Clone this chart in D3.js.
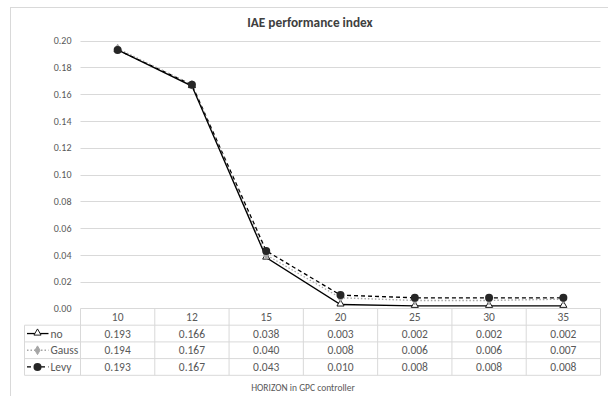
<!DOCTYPE html>
<html>
<head>
<meta charset="utf-8">
<script src="https://cdn.jsdelivr.net/npm/d3@7"></script>
<style>
    body { margin: 0; background: #fff; }
    text { font-family: Carlito, Lato, "Open Sans", "Liberation Sans", sans-serif; }
</style>
</head>
<body>
<script>
var categories = ["10", "12", "15", "20", "25", "30", "35"];
var seriesNames = ["no", "Gauss", "Levy"];
var noValues = [0.193, 0.166, 0.038, 0.003, 0.002, 0.002, 0.002];
var gaussValues = [0.194, 0.167, 0.040, 0.008, 0.006, 0.006, 0.007];
var levyValues = [0.193, 0.167, 0.043, 0.010, 0.008, 0.008, 0.008];
var yTicks = [0, 0.02, 0.04, 0.06, 0.08, 0.10, 0.12, 0.14, 0.16, 0.18, 0.20];

(function () {
    var width = 608, height = 396;
    var plotLeft = 80.5, plotRight = 600.5, plotTop = 40.5, plotBottom = 308.5;
    var rowH = 16.7, legendLeft = 24.5;
    var grid = "#d9d9d9", txt = "#595959";

    var series = [
        {name: seriesNames[0], values: noValues, color: "#000", dash: null, marker: "triangle", fill: "#fff"},
        {name: seriesNames[1], values: gaussValues, color: "#a6a6a6", dash: "1.5,2", marker: "diamond", fill: "#a6a6a6"},
        {name: seriesNames[2], values: levyValues, color: "#000", dash: "4,3", marker: "circle", fill: "#262626"}
    ];

    var svg = d3.select("body").append("svg")
        .attr("width", width)
        .attr("height", height);

    svg.append("rect")
        .attr("x", 10.5).attr("y", 7.5)
        .attr("width", 620).attr("height", 420)
        .attr("fill", "#fff")
        .attr("stroke", grid);

    var x = d3.scaleBand().domain(categories).range([plotLeft, plotRight]);
    var y = d3.scaleLinear().domain([0, 0.2]).range([plotBottom, plotTop]);

    // gridlines
    svg.append("g").selectAll("line")
        .data(yTicks.slice(1))
        .enter().append("line")
        .attr("x1", plotLeft).attr("x2", plotRight)
        .attr("y1", function (d) { return Math.round(y(d)) + 0.5; })
        .attr("y2", function (d) { return Math.round(y(d)) + 0.5; })
        .attr("stroke", grid);

    var yAxis = svg.append("g")
        .attr("transform", "translate(" + plotLeft + ",0)")
        .call(d3.axisLeft(y).tickValues(yTicks).tickFormat(d3.format(".2f")).tickSize(0).tickPadding(9));
    yAxis.select(".domain").remove();
    yAxis.selectAll("text").attr("fill", txt).style("font-size", "10px");

    // data table
    var tbl = svg.append("g").attr("stroke", grid).attr("fill", "none");
    [0, 1, 2, 3, 4].forEach(function (i) {
        var yy = plotBottom + i * rowH;
        tbl.append("line")
            .attr("x1", i === 0 ? plotLeft : legendLeft).attr("x2", plotRight)
            .attr("y1", yy).attr("y2", yy);
    });
    tbl.append("line").attr("x1", legendLeft).attr("x2", legendLeft)
        .attr("y1", plotBottom + rowH).attr("y2", plotBottom + 4 * rowH);
    categories.forEach(function (c) {
        var xx = x(c);
        tbl.append("line").attr("x1", xx).attr("x2", xx)
            .attr("y1", plotBottom).attr("y2", plotBottom + 4 * rowH);
    });
    tbl.append("line").attr("x1", plotRight).attr("x2", plotRight)
        .attr("y1", plotBottom).attr("y2", plotBottom + 4 * rowH);

    svg.append("g").selectAll("text")
        .data(categories)
        .enter().append("text")
        .attr("x", function (d) { return x(d) + x.bandwidth() / 2; })
        .attr("y", plotBottom + rowH / 2 + 4)
        .attr("text-anchor", "middle")
        .attr("fill", txt)
        .style("font-size", "11.5px")
        .text(function (d) { return d; });

    function drawMarker(g, s, cx, cy) {
        if (s.marker === "triangle") {
            g.append("path")
                .attr("d", d3.symbol().type(d3.symbolTriangle).size(22)())
                .attr("transform", "translate(" + cx + "," + (cy - 0.5) + ")")
                .attr("fill", s.fill).attr("stroke", "#000").attr("stroke-width", 0.9);
        } else if (s.marker === "diamond") {
            g.append("path")
                .attr("d", d3.symbol().type(d3.symbolDiamond).size(22)())
                .attr("transform", "translate(" + cx + "," + cy + ")")
                .attr("fill", s.fill).attr("stroke", s.fill);
        } else {
            g.append("circle")
                .attr("cx", cx).attr("cy", cy).attr("r", 4)
                .attr("fill", s.fill);
        }
    }

    series.forEach(function (s, si) {
        var ry = plotBottom + (si + 1) * rowH + rowH / 2 + 4;
        svg.append("g").selectAll("text")
            .data(s.values)
            .enter().append("text")
            .attr("x", function (d, i) { return x(categories[i]) + x.bandwidth() / 2; })
            .attr("y", ry)
            .attr("text-anchor", "middle")
            .attr("fill", txt)
            .style("font-size", "11.5px")
            .text(function (d) { return d3.format(".3f")(d); });

        var ky = plotBottom + (si + 1) * rowH + rowH / 2;
        svg.append("line")
            .attr("x1", legendLeft + 2.5).attr("x2", legendLeft + 24)
            .attr("y1", ky).attr("y2", ky)
            .attr("stroke", s.color).attr("stroke-width", 1.3)
            .attr("stroke-dasharray", s.dash);
        drawMarker(svg, s, legendLeft + 13, ky);
        svg.append("text")
            .attr("x", legendLeft + 26).attr("y", ky + 4)
            .attr("fill", txt)
            .style("font-size", "11.5px")
            .text(s.name);
    });

    // lines: no on top, markers after
    var line = d3.line()
        .x(function (d, i) { return x(categories[i]) + x.bandwidth() / 2; })
        .y(function (d) { return y(d); });

    [2, 1, 0].forEach(function (si) {
        var s = series[si];
        svg.append("path")
            .datum(s.values)
            .attr("d", line)
            .attr("fill", "none")
            .attr("stroke", s.color)
            .attr("stroke-width", si === 1 ? 1.4 : 1.3)
            .attr("stroke-dasharray", s.dash);
    });
    [0, 1, 2].forEach(function (si) {
        var s = series[si];
        var mg = svg.append("g");
        s.values.forEach(function (v, i) {
            drawMarker(mg, s, x(categories[i]) + x.bandwidth() / 2, y(v));
        });
    });

    svg.append("text")
        .attr("x", 310).attr("y", 26.5)
        .attr("text-anchor", "middle")
        .attr("fill", "#404040")
        .style("font-size", "13.3px")
        .style("font-weight", "bold")
        .text("IAE performance index");

    svg.append("text")
        .attr("x", 303).attr("y", 390.5)
        .attr("text-anchor", "middle")
        .attr("fill", txt)
        .style("font-size", "9.5px")
        .text("HORIZON in GPC controller");
}());
</script>
</body>
</html>
